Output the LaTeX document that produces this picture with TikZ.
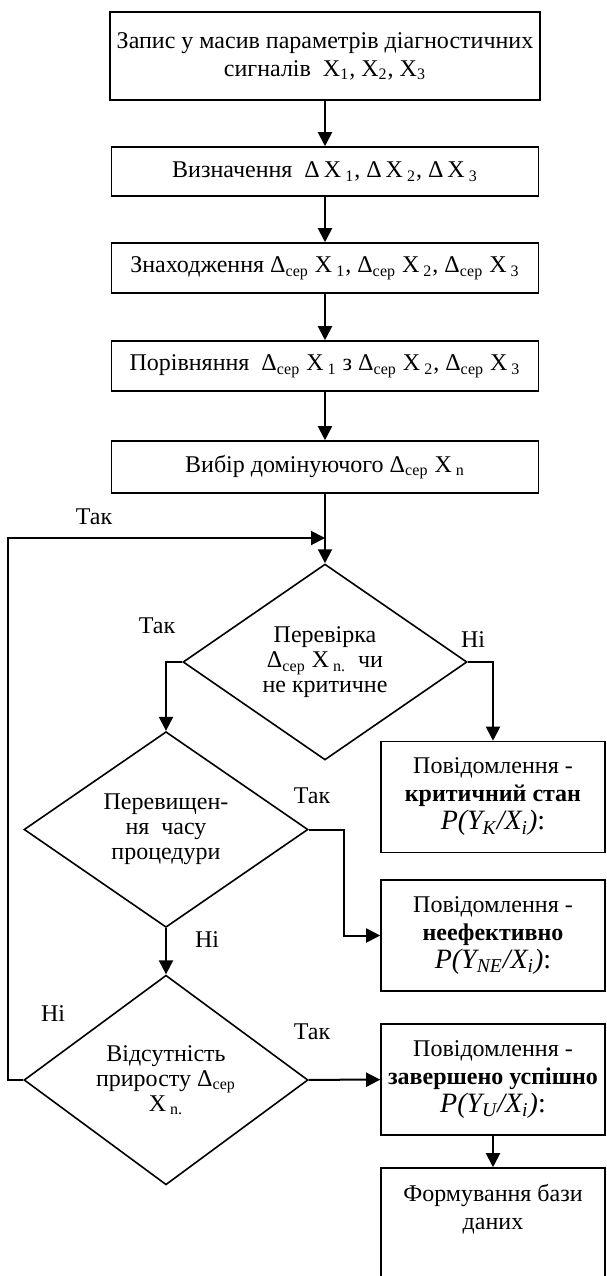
\documentclass[tikz,border=0pt]{standalone}
\usepackage{fontspec}
\setmainfont{Liberation Serif}
\usepackage{tikz}
\usetikzlibrary{shapes.geometric, arrows.meta}
\newcommand\probmsg[1]{{\fontsize{14}{14}\selectfont\itshape P(Y\textsubscript{#1}/X\textsubscript{i})}{\fontsize{14}{14}\selectfont :}}
\newcommand\dsr{Δ\textsubscript{сер}}

\begin{document}
\begin{tikzpicture}[x=0.5pt, y=-0.5pt,
  block/.style={rectangle, draw, line width=0.8pt, minimum width=213.5pt, align=center, font=\fontsize{12}{14}\selectfont},
  msg/.style={rectangle, draw, line width=0.8pt, minimum width=112pt, minimum height=55.5pt, align=center, font=\fontsize{12}{14}\selectfont},
  check/.style={diamond, draw, line width=0.8pt, minimum width=142pt, minimum height=89pt, inner sep=0pt, align=center, font=\fontsize{12}{12.5}\selectfont},
  flow/.style={-{Triangle[length=7pt,width=7pt]}, line width=1pt},
  lbl/.style={font=\fontsize{12}{14}\selectfont}
]
\useasboundingbox (0,0) rectangle (606,1276);

% Nodes
\node[block, minimum height=44pt] (rec) at (325,56) {Запис у масив параметрів діагностичних\\сигналів\ \ X\textsubscript{1}, X\textsubscript{2}, X\textsubscript{3}};
\node[block, minimum height=24.5pt] (delta) at (325,171.5) {Визначення\ \ Δ\,X\,\textsubscript{1}, Δ\,X\,\textsubscript{2}, Δ\,X\,\textsubscript{3}};
\node[block, minimum height=25pt] (avg) at (325,268) {Знаходження \dsr\ X\,\textsubscript{1}, \dsr\ X\,\textsubscript{2}, \dsr\ X\,\textsubscript{3}};
\node[block, minimum height=25pt] (cmp) at (325,366) {Порівняння\ \ \dsr\ X\,\textsubscript{1} з \dsr\ X\,\textsubscript{2}, \dsr\ X\,\textsubscript{3}};
\node[block, minimum height=26pt] (pick) at (325,467) {Вибір домінуючого \dsr\ X\,\textsubscript{n}};

\node[check] (crit) at (325,662) {Перевірка\\\dsr\ X\,\textsubscript{n.}\ \ чи\\не критичне};
\node[check] (time) at (166,829.5) {Перевищен-\\ня\ \ часу\\процедури};
\node[check] (gain) at (166,1080) {Відсутність\\приросту \dsr\\X\,\textsubscript{n.}};

\node[msg] (msgk) at (493,797) {Повідомлення -\\\textbf{критичний стан}\\\probmsg{K}};
\node[msg] (msgne) at (493,935.5) {Повідомлення -\\\textbf{неефективно}\\\probmsg{NE}};
\node[msg] (msgu) at (493,1079.5) {Повідомлення -\\\textbf{завершено успішно}\\\probmsg{U}};
\node[msg, minimum height=67pt] (db) at (493,1235) {Формування бази\\даних\\~\\~};

% Labels
\node[lbl] (yes0) at (94,517) {Так};
\node[lbl] (yes1) at (157,626) {Так};
\node[lbl] (no1) at (473,640) {Ні};
\node[lbl] (yes2) at (312,796) {Так};
\node[lbl] (no2) at (207,940) {Ні};
\node[lbl] (no3) at (53,1014) {Ні};
\node[lbl] (yes3) at (312,1032) {Так};

\coordinate (join) at (325,538);

% Flows
\draw[flow] (rec) -- (delta);
\draw[flow] (delta) -- (avg);
\draw[flow] (avg) -- (cmp);
\draw[flow] (cmp) -- (pick);
\draw[flow] (pick) -- (crit);
\draw[flow] (gain.west) -- ++(-15,0) |- (join);
\draw[flow] (crit.west) -| (time.north);
\draw[flow] (crit.east) -| (msgk.north);
\draw[flow] (time.east) -- ++(35,0) |- (msgne.west);
\draw[flow] (time) -- (gain);
\draw[flow] (gain) -- (msgu);
\draw[flow] (msgu) -- (db);

\end{tikzpicture}
\end{document}
